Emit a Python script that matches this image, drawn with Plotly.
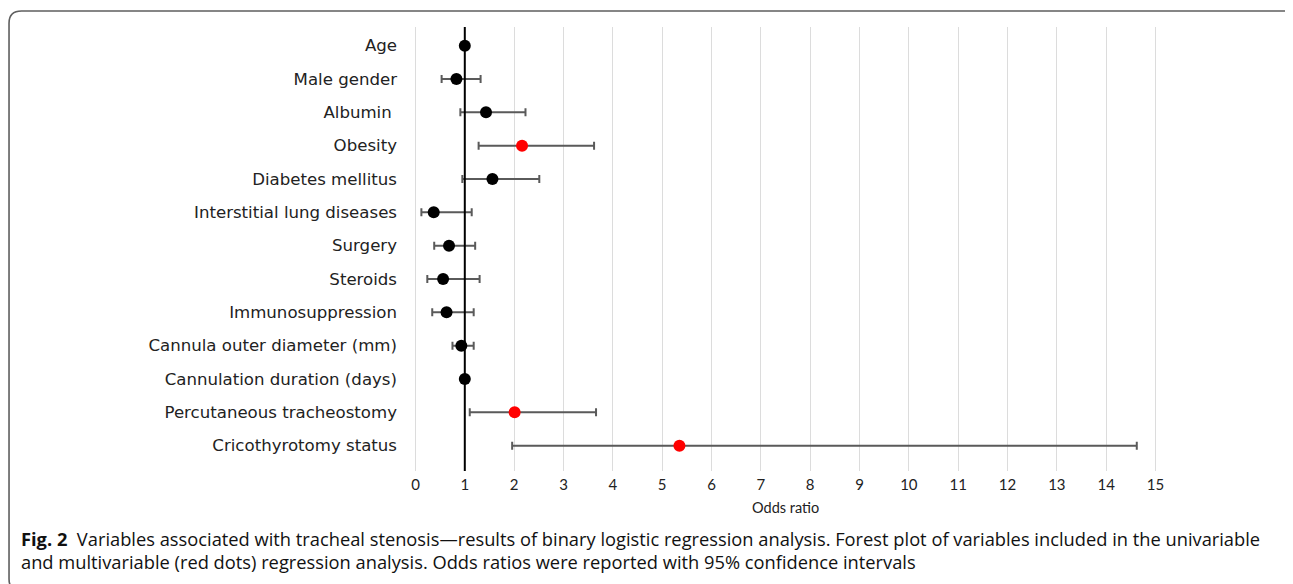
import plotly.graph_objects as go

# ---- data ----
variables = [
    "Age", "Male gender", "Albumin ", "Obesity", "Diabetes mellitus",
    "Interstitial lung diseases", "Surgery", "Steroids", "Immunosuppression",
    "Cannula outer diameter (mm)", "Cannulation duration (days)",
    "Percutaneous tracheostomy", "Cricothyrotomy status",
]
odds_ratio = [1.00, 0.83, 1.43, 2.16, 1.56, 0.37, 0.68, 0.56, 0.63, 0.93, 1.00, 2.01, 5.35]
ci_lower   = [0.99, 0.53, 0.91, 1.28, 0.95, 0.12, 0.38, 0.24, 0.34, 0.75, 0.99, 1.10, 1.96]
ci_upper   = [1.02, 1.32, 2.23, 3.62, 2.51, 1.14, 1.21, 1.30, 1.18, 1.18, 1.02, 3.66, 14.62]
multivariable = [False, False, False, True, False, False, False, False, False, False, False, True, True]
x_ticks = list(range(0, 16))

# page has an 8px body margin, so the figure is drawn 8px smaller and offset
OFF = 8
W, H = 1285, 576
L, R, T, B = 405.2, 135.3, 19, 113
pw, ph = W - L - R, H - T - B

def px(xp):  # reference screen pixel -> paper x
    return (xp - OFF - L) / pw

def py(yp):  # reference screen pixel -> paper y
    return (H - B - (yp - OFF)) / ph

fig = go.Figure()
for is_multi, color in [(False, "#000000"), (True, "#ff0000")]:
    idx = [i for i, m in enumerate(multivariable) if m == is_multi]
    fig.add_trace(go.Scatter(
        x=[odds_ratio[i] for i in idx],
        y=[variables[i] for i in idx],
        mode="markers",
        marker=dict(color=color, size=12, line=dict(width=0)),
        error_x=dict(
            type="data", symmetric=False,
            array=[ci_upper[i] - odds_ratio[i] for i in idx],
            arrayminus=[odds_ratio[i] - ci_lower[i] for i in idx],
            color="#5a5a5a", thickness=2, width=4,
        ),
        showlegend=False,
        hoverinfo="x+y",
    ))

fig.add_shape(type="line", xref="x", yref="paper", x0=1, x1=1, y0=0, y1=1,
              line=dict(color="#000000", width=2), layer="above")

# frame (open rounded box like the journal figure)
path = (f"M {px(1300)},{py(22)} Q {px(1300)},{py(11)} {px(1287)},{py(11)} "
        f"L {px(22)},{py(11)} Q {px(9.5)},{py(11)} {px(9.5)},{py(23)} "
        f"L {px(9.5)},{py(579)} Q {px(9.5)},{py(590)} {px(20)},{py(590)}")
fig.add_shape(type="path", xref="paper", yref="paper", path=path,
              line=dict(color="#5f5f5f", width=1.6))

fig.add_annotation(text="Odds ratio", xref="x", yref="paper", x=7.5, y=py(507),
                   showarrow=False, xanchor="center", yanchor="middle",
                   font=dict(family="Lato", size=14.5, color="#222222"))

cap_font = dict(family="Open Sans", size=18.3, color="#111111")
fig.add_annotation(
    text="<b>Fig. 2</b>  Variables associated with tracheal stenosis—results of binary logistic regression analysis. "
         "Forest plot of variables included in the univariable",
    xref="paper", yref="paper", x=px(19), y=py(538), showarrow=False,
    xanchor="left", yanchor="middle", font=cap_font)
fig.add_annotation(
    text="and multivariable (red dots) regression analysis. Odds ratios were reported with 95% confidence intervals",
    xref="paper", yref="paper", x=px(19), y=py(561), showarrow=False,
    xanchor="left", yanchor="middle", font=cap_font)

fig.update_layout(
    width=W, height=H,
    margin=dict(l=L, r=R, t=T, b=B, pad=0),
    paper_bgcolor="#ffffff", plot_bgcolor="#ffffff",
    xaxis=dict(
        range=[-0.05, 15.05], tickvals=x_ticks, ticktext=[str(v) for v in x_ticks],
        showgrid=True, gridcolor="#dcdcdc", gridwidth=1,
        zeroline=False, showline=False, ticks="",
        ticklabelstandoff=3,
        tickfont=dict(family="Lato", size=15, color="#222222"),
    ),
    yaxis=dict(
        type="category", categoryorder="array", categoryarray=variables,
        range=[12.76, -0.56],
        showgrid=False, zeroline=False, showline=False, ticks="",
        ticklabelstandoff=15,
        tickfont=dict(family="DejaVu Sans", size=16.6, color="#222222"),
    ),
)

fig.write_html("out.html")
